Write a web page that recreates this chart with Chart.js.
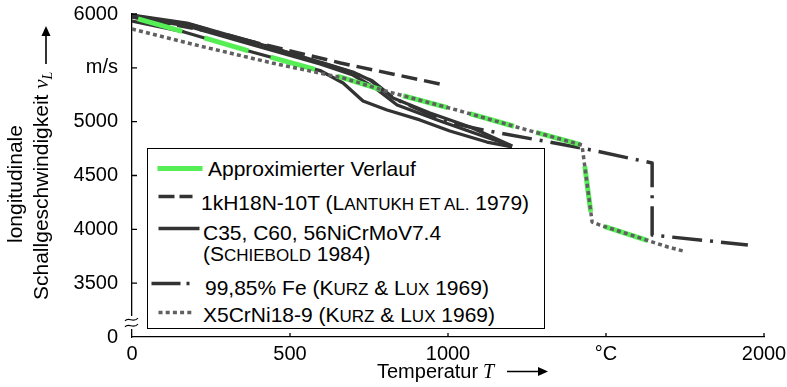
<!DOCTYPE html>
<html>
<head>
<meta charset="utf-8">
<script src="https://cdn.jsdelivr.net/npm/chart.js@4.4.0/dist/chart.umd.min.js"></script>
<style>
body{margin:0;background:#fff;}
#wrap{position:relative;width:787px;height:387px;}
#legend{position:absolute;left:147px;top:148px;width:398px;height:181px;box-sizing:border-box;border:1.5px solid #000;background:#fff;
 font-family:'Liberation Sans',Arial,sans-serif;font-size:21px;color:#000;}
.lg{position:absolute;white-space:nowrap;line-height:21px;}
.sc{text-transform:uppercase;font-size:17px;}
#legend svg{position:absolute;left:0;top:0;}
</style>
</head>
<body>
<div id="wrap">
<canvas id="c" width="787" height="387"></canvas>
<div id="legend">
 <svg width="396" height="178">
  <line x1="9.5" y1="19.5" x2="54.5" y2="19.5" stroke="#55ee55" stroke-width="5"/>
  <line x1="10.5" y1="47.5" x2="44.5" y2="47.5" stroke="#333" stroke-width="3.5" stroke-dasharray="16 5"/>
  <line x1="10.5" y1="79.5" x2="51.5" y2="79.5" stroke="#333" stroke-width="3.5"/>
  <line x1="3.5" y1="134.5" x2="45" y2="134.5" stroke="#333" stroke-width="3.5" stroke-dasharray="29 6 3 20"/>
  <line x1="10.5" y1="163.5" x2="44.5" y2="163.5" stroke="#606060" stroke-width="3.5" stroke-dasharray="4 3.2"/>
 </svg>
 <div class="lg" style="left:60px;top:9px">Approximierter Verlauf</div>
 <div class="lg" style="left:53px;top:43px">1kH18N-10T (L<span class="sc">antukh et al.</span> 1979)</div>
 <div class="lg" style="left:55px;top:73px">C35, C60, 56NiCrMoV7.4<br>(S<span class="sc">chiebold</span> 1984)</div>
 <div class="lg" style="left:57px;top:128px">99,85% Fe (K<span class="sc">urz</span> &amp; L<span class="sc">ux</span> 1969)</div>
 <div class="lg" style="left:55px;top:155px">X5CrNi18-9 (K<span class="sc">urz</span> &amp; L<span class="sc">ux</span> 1969)</div>
</div>
</div>
<script>
// Achsen
var xTicks = [0, 500, 1000, 1500, 2000];
var xTickLabels = ['0', '500', '1000', '°C', '2000'];
var yTicks = [3000, 3500, 4000, 4500, 5000, 5500, 6000];
var yTickLabels = ['0', '3500', '4000', '4500', '5000', 'm/s', '6000'];

// Approximierter Verlauf (gruen)
var approxT = [19, 165, 380, 598, 668, 813, 1028, 1250, 1424, 1456, 1481, 1696];
var approxV = [5954, 5833, 5647, 5471, 5406, 5276, 5108, 4923, 4783, 4068, 4040, 3836];

// 1kH18N-10T (Lantukh et al. 1979)
var lantT = [0, 250, 660, 990];
var lantV = [5975, 5835, 5545, 5340];

// C35, C60, 56NiCrMoV7.4 (Schiebold 1984) - drei Kurven
var c35T = [0, 174, 383, 595, 699, 753, 826, 943, 1070, 1203];
var c35V = [5990, 5916, 5740, 5554, 5461, 5387, 5220, 5081, 4950, 4774];
var c60T = [0, 174, 383, 595, 699, 769, 839, 975, 1101, 1203];
var c60V = [5972, 5889, 5712, 5536, 5433, 5313, 5155, 5006, 4876, 4774];
var niT = [0, 165, 380, 598, 668, 731, 807, 911, 1006, 1123, 1203];
var niV = [5935, 5833, 5647, 5471, 5359, 5192, 5108, 5016, 4913, 4811, 4765];

// 99,85% Fe (Kurz & Lux 1969)
var feT = [0, 180, 390, 700, 760, 830, 997, 1111, 1424, 1646, 1646, 1949];
var feV = [5985, 5905, 5735, 5455, 5380, 5215, 4997, 4923, 4755, 4616, 3947, 3855];

// X5CrNi18-9 (Kurz & Lux 1969)
var x5T = [0, 215, 443, 668, 813, 1028, 1250, 1424, 1456, 1481, 1696, 1744];
var x5V = [5861, 5703, 5545, 5406, 5276, 5108, 4923, 4783, 4068, 4040, 3836, 3799];

function pts(t, v) {
  return t.map(function(x, i) { return {x: x, y: v[i]}; });
}

var dark = '#333333';
var fontFam = "'Liberation Sans', Arial, sans-serif";

function lineSet(data, color, width, dash, order) {
  return {
    data: data,
    borderColor: color,
    borderWidth: width,
    borderDash: dash,
    borderCapStyle: 'butt',
    borderJoinStyle: 'round',
    pointRadius: 0,
    tension: 0,
    fill: false,
    order: order
  };
}

var extras = {
  id: 'extras',
  afterDraw: function(chart) {
    var ctx = chart.ctx;
    var xs = chart.scales.x, ys = chart.scales.y;
    var x0 = xs.left, y0 = ys.bottom;
    ctx.save();
    ctx.strokeStyle = '#000';
    ctx.lineWidth = 1.3;
    // Striche nach innen
    ctx.beginPath();
    yTicks.forEach(function(v) {
      if (v === yTicks[0]) return;
      var p = ys.getPixelForValue(v);
      ctx.moveTo(x0, p); ctx.lineTo(x0 + 5, p);
    });
    xTicks.forEach(function(t) {
      if (t === 0) return;
      var p = xs.getPixelForValue(t);
      ctx.moveTo(p, y0); ctx.lineTo(p, y0 - 4);
    });
    ctx.stroke();

    // Achsenbruch
    ctx.fillStyle = '#fff';
    ctx.fillRect(x0 - 3, 316, 6, 13);
    ctx.lineWidth = 1.2;
    [319.5, 325.5].forEach(function(y) {
      ctx.beginPath();
      ctx.moveTo(x0 - 7, y + 1.5);
      ctx.bezierCurveTo(x0 - 3.5, y - 3.5, x0 + 1.5, y + 4.5, x0 + 6, y - 1.5);
      ctx.stroke();
    });

    // Achsentitel
    ctx.fillStyle = '#000';
    ctx.textBaseline = 'alphabetic';
    ctx.textAlign = 'left';
    ctx.font = '21px ' + fontFam;
    ctx.save();
    ctx.translate(22, 243);
    ctx.rotate(-Math.PI / 2);
    ctx.fillText('longitudinale', 0, 0);
    ctx.restore();

    ctx.save();
    ctx.translate(48, 300);
    ctx.rotate(-Math.PI / 2);
    var s = 'Schallgeschwindigkeit ';
    ctx.fillText(s, 0, 0);
    var w = ctx.measureText(s).width;
    ctx.font = "italic 21px 'Liberation Serif', serif";
    ctx.fillText('v', w, 0);
    w += ctx.measureText('v').width;
    ctx.font = "italic 14px 'Liberation Serif', serif";
    ctx.fillText('L', w, 4);
    ctx.restore();

    // Pfeil y
    ctx.lineWidth = 1.6;
    ctx.beginPath();
    ctx.moveTo(46, 64); ctx.lineTo(46, 33);
    ctx.stroke();
    ctx.beginPath();
    ctx.moveTo(46, 26); ctx.lineTo(50.5, 36); ctx.lineTo(41.5, 36); ctx.closePath();
    ctx.fill();

    // x Titel
    ctx.font = '20px ' + fontFam;
    ctx.fillText('Temperatur', 377, 378);
    ctx.font = "italic 20px 'Liberation Serif', serif";
    ctx.fillText('T', 483, 378);
    ctx.beginPath();
    ctx.moveTo(507, 371.5); ctx.lineTo(540, 371.5);
    ctx.stroke();
    ctx.beginPath();
    ctx.moveTo(548, 371.5); ctx.lineTo(538, 367); ctx.lineTo(538, 376); ctx.closePath();
    ctx.fill();
    ctx.restore();
  }
};

Chart.defaults.font.family = fontFam;
Chart.defaults.font.size = 20;
Chart.defaults.color = '#000';

var chart = new Chart(document.getElementById('c').getContext('2d'), {
  type: 'line',
  data: {
    datasets: [
      lineSet(pts(x5T, x5V), '#606060', 3.5, [4, 3.2], 0),
      lineSet(pts(approxT, approxV), '#55ee55', 5, [46, 23], 1),
      lineSet(pts(c35T, c35V), dark, 3.3, [], 2),
      lineSet(pts(c60T, c60V), dark, 3.3, [], 2),
      lineSet(pts(niT, niV), dark, 3.3, [], 2),
      lineSet(pts(lantT, lantV), dark, 3.5, [16, 7], 3),
      lineSet(pts(feT, feV), dark, 3.5, [30, 8, 3, 8], 3)
    ]
  },
  options: {
    responsive: false,
    animation: false,
    layout: { padding: { left: 0, right: 23, top: 14, bottom: 0 } },
    plugins: { legend: { display: false }, tooltip: { enabled: false } },
    scales: {
      x: {
        type: 'linear',
        min: 0, max: 2000,
        afterFit: function(s) { s.height = 50; s.paddingLeft = 0; s.paddingRight = 0; },
        afterBuildTicks: function(s) { s.ticks = xTicks.map(function(v) { return {value: v}; }); },
        grid: { display: false, drawTicks: false },
        border: { display: true, color: '#000', width: 1.3 },
        ticks: {
          padding: 5, maxRotation: 0, autoSkip: false,
          callback: function(v) { return xTickLabels[xTicks.indexOf(v)]; }
        }
      },
      y: {
        type: 'linear',
        min: 3000, max: 6000,
        afterFit: function(s) { s.width = 132; s.paddingTop = 0; s.paddingBottom = 0; },
        afterBuildTicks: function(s) { s.ticks = yTicks.map(function(v) { return {value: v}; }); },
        grid: { display: false, drawTicks: false },
        border: { display: true, color: '#000', width: 1.3 },
        ticks: {
          padding: 14, autoSkip: false,
          callback: function(v) { return yTickLabels[yTicks.indexOf(v)]; }
        }
      }
    }
  },
  plugins: [extras]
});
</script>
</body>
</html>
